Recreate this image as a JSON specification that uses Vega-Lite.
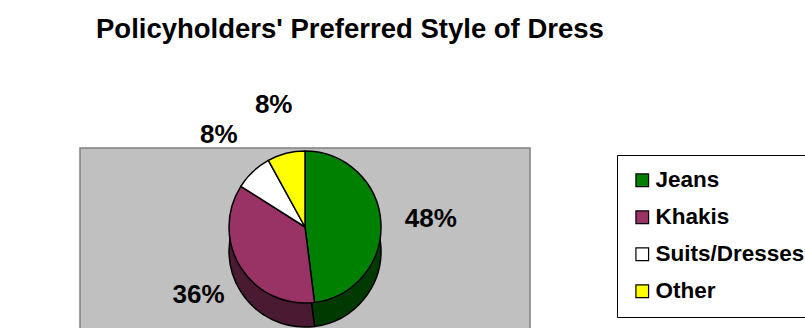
{
  "$schema": "https://vega.github.io/schema/vega-lite/v6.json",
  "width": 450,
  "height": 182,
  "autosize": {"type": "none"},
  "padding": {"left": 80, "top": 148, "right": 275, "bottom": 0},
  "background": "white",
  "view": {"fill": "#c0c0c0", "stroke": "#808080", "strokeWidth": 1.5},
  "title": {
    "text": "Policyholders' Preferred Style of Dress",
    "anchor": "start",
    "frame": "group",
    "dx": 16,
    "offset": 48,
    "fontSize": 27.5,
    "font": "Liberation Sans",
    "fontWeight": "bold",
    "color": "black"
  },
  "data": {
    "values": [
      {"style": "Jeans", "share": 0.48, "order": 1},
      {"style": "Khakis", "share": 0.36, "order": 2},
      {"style": "Suits/Dresses", "share": 0.08, "order": 3},
      {"style": "Other", "share": 0.08, "order": 4}
    ]
  },
  "encoding": {
    "theta": {"field": "share", "type": "quantitative", "stack": true},
    "order": {"field": "order", "type": "quantitative"}
  },
  "layer": [
    {
      "mark": {"type": "arc", "radius": 76, "yOffset": 12, "stroke": "black", "strokeWidth": 1.5},
      "encoding": {
        "color": {
          "field": "style",
          "type": "nominal",
          "scale": {"domain": ["Jeans", "Khakis", "Suits/Dresses", "Other"], "range": ["#003a00", "#4a1a33", "#808080", "#808000"]},
          "legend": null
        }
      }
    },
    {
      "mark": {"type": "arc", "radius": 76, "yOffset": -12, "stroke": "black", "strokeWidth": 1.5},
      "encoding": {
        "color": {
          "field": "style",
          "type": "nominal",
          "sort": null,
          "scale": {"domain": ["Jeans", "Khakis", "Suits/Dresses", "Other"], "range": ["#008000", "#993366", "#ffffff", "#ffff00"]},
          "legend": {
            "title": null,
            "orient": "none",
            "legendX": 537,
            "legendY": 7,
            "strokeColor": "black",
            "fillColor": "white",
            "padding": 14,
            "symbolType": "square",
            "symbolSize": 160,
            "symbolStrokeColor": "black",
            "symbolStrokeWidth": 1.2,
            "symbolOpacity": 1,
            "labelFont": "Liberation Sans",
            "labelFontSize": 22.5,
            "labelFontWeight": "bold",
            "labelColor": "black",
            "labelOffset": 2,
            "rowPadding": 14,
            "labelLimit": 400
          }
        }
      }
    },
    {
      "mark": {"type": "text", "radius": 126, "yOffset": -12, "fontSize": 26, "fontWeight": "bold", "font": "Liberation Sans", "color": "black"},
      "encoding": {
        "text": {"field": "share", "type": "quantitative", "format": ".0%"}
      }
    }
  ],
  "resolve": {"scale": {"color": "independent"}}
}
